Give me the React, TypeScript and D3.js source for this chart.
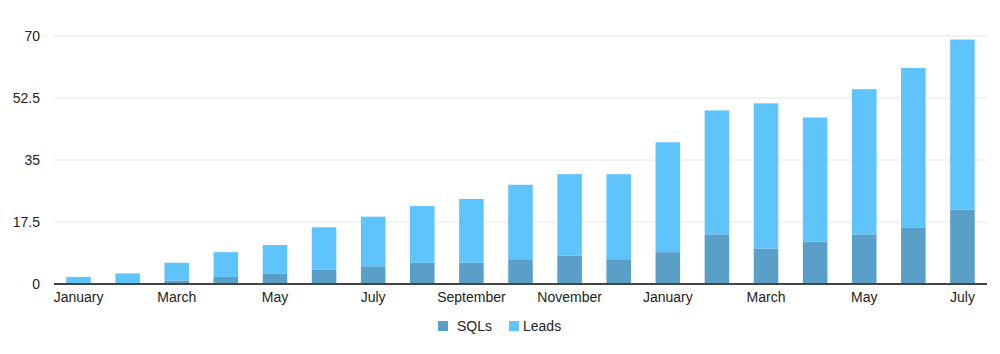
import React from 'react';
import * as d3 from 'd3';

const months = [
  'January', 'February', 'March', 'April', 'May', 'June', 'July', 'August', 'September',
  'October', 'November', 'December', 'January', 'February', 'March', 'April', 'May', 'June', 'July'
];
const sqls = [0, 0, 1, 2, 3, 4, 5, 6, 6, 7, 8, 7, 9, 14, 10, 12, 14, 16, 21];
const leads = [2, 3, 5, 7, 8, 12, 14, 16, 18, 21, 23, 24, 31, 35, 41, 35, 41, 45, 48];
const yTicks = [0, 17.5, 35, 52.5, 70];

const SQL_COLOR = '#5a9fc7';
const LEAD_COLOR = '#5fc4fb';
const FONT = '"Liberation Sans", Arial, Helvetica, sans-serif';

const width = 1000;
const height = 354;
const margin = { top: 36, right: 13, bottom: 70, left: 54 };

export default function App() {
  const innerW = width - margin.left - margin.right;
  const innerH = height - margin.top - margin.bottom;
  const keys = months.map((_, i) => String(i));

  const x = d3.scaleBand<string>().domain(keys).range([0, innerW]).paddingInner(0.5).paddingOuter(0.25);
  const y = d3.scaleLinear().domain([0, 70]).range([innerH, 0]);

  const rows = months.map((m, i) => ({ key: String(i), sqls: sqls[i], leads: leads[i] }));
  const stack = d3.stack<any>().keys(['sqls', 'leads'])(rows);
  const colors: Record<string, string> = { sqls: SQL_COLOR, leads: LEAD_COLOR };

  return (
    <svg width={width} height={height} style={{ position: 'absolute', left: 0, top: 0, background: '#fff' }}>
      <g transform={`translate(${margin.left},${margin.top})`} fontFamily={FONT}>
        {/* grid */}
        {yTicks.map(t => (
          <g key={t}>
            {t !== 0 && (
              <line x1={0} x2={innerW} y1={y(t)} y2={y(t)} stroke="#e6e6e6" strokeWidth={1} />
            )}
            <text x={-14} y={y(t)} dy="0.35em" textAnchor="end" fontSize={14} fill="#222">
              {t}
            </text>
          </g>
        ))}

        {/* bars */}
        {stack.map(layer => (
          <g key={layer.key} fill={colors[layer.key]}>
            {layer.map((d, i) => {
              const h = y(d[0]) - y(d[1]);
              if (h <= 0) return null;
              return (
                <rect
                  key={i}
                  x={x(keys[i])}
                  y={y(d[1])}
                  width={x.bandwidth()}
                  height={h}
                />
              );
            })}
          </g>
        ))}

        {/* axis line */}
        <line x1={0} x2={innerW} y1={innerH} y2={innerH} stroke="#444" strokeWidth={2} />

        {/* x labels */}
        {months.map((m, i) =>
          i % 2 === 0 ? (
            <text
              key={i}
              x={(x(keys[i]) || 0) + x.bandwidth() / 2}
              y={innerH + 18}
              textAnchor="middle"
              fontSize={14}
              fill="#222"
            >
              {m}
            </text>
          ) : null
        )}
      </g>

      {/* legend */}
      <g fontFamily={FONT} fontSize={14} fill="#222">
        <rect x={438} y={321} width={10} height={10} fill={SQL_COLOR} />
        <text x={457} y={326} dy="0.35em">SQLs</text>
        <rect x={509} y={321} width={10} height={10} fill={LEAD_COLOR} />
        <text x={523} y={326} dy="0.35em">Leads</text>
      </g>
    </svg>
  );
}
